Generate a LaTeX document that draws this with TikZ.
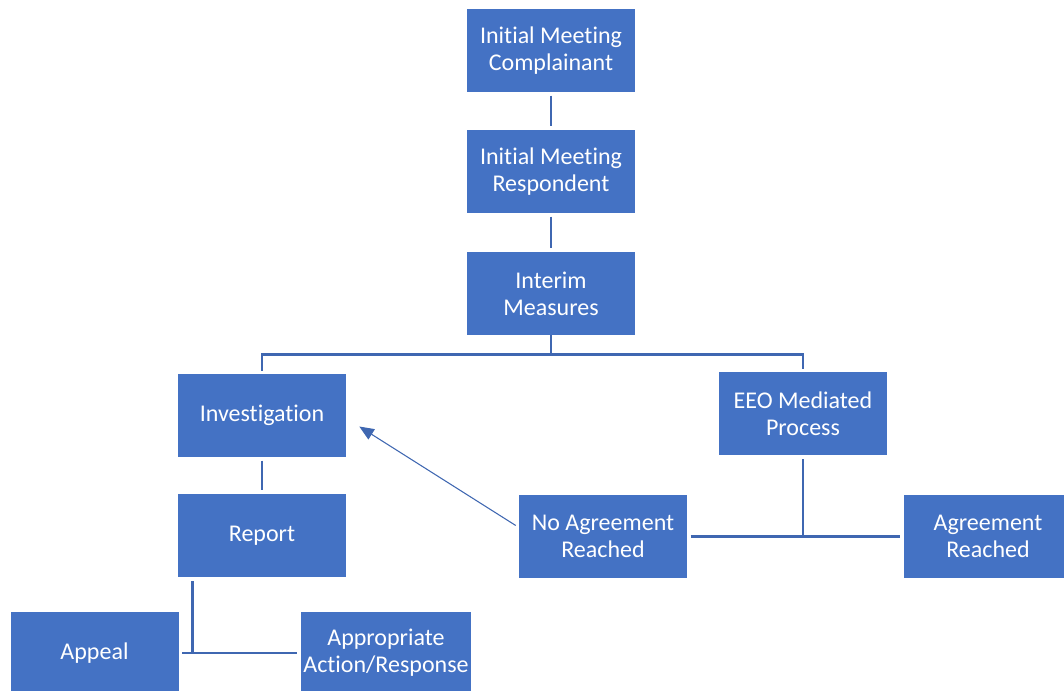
\documentclass[tikz,border=0pt]{standalone}
\usepackage{fontspec}
\setmainfont{Carlito}[Ligatures=NoCommon]
\usetikzlibrary{calc,arrows.meta}
\definecolor{boxblue}{RGB}{68,114,196}
\definecolor{lineblue}{RGB}{63,103,177}
\tikzset{
  stepbox/.style={rectangle, fill=boxblue, draw=none, text=white, align=center,
    minimum width=168*0.75pt, minimum height=83*0.75pt, inner sep=1pt,
    font=\fontsize{18}{20.3}\selectfont},
  conn/.style={draw=lineblue, line width=2.2pt},
  gap/.style={shorten <=2.5pt, shorten >=2.5pt},
  arrowline/.style={draw=lineblue, line width=0.8pt, -{Triangle[length=11pt,width=9pt]}}
}
\begin{document}
\begin{tikzpicture}[x=0.75pt,y=-0.75pt]
\useasboundingbox (0,0) rectangle (1064,691);
\begin{scope}
\clip (0,0) rectangle (1064,691);
\node[stepbox] (c1) at (551,50.5) {Initial Meeting\\Complainant};
\node[stepbox] (c2) at (551,171.5) {Initial Meeting\\Respondent};
\node[stepbox] (c3) at (551,293.5) {Interim\\Measures};
\node[stepbox] (inv) at (262,415.5) {Investigation};
\node[stepbox] (eeo) at (803,413.5) {EEO Mediated\\Process};
\node[stepbox] (report) at (262,535.5) {Report};
\node[stepbox] (noagr) at (603,536.5) {No Agreement\\Reached};
\node[stepbox] (agr) at (988,536.5) {Agreement\\Reached};
\node[stepbox] (appeal) at (94.5,653) {Appeal};
\node[stepbox, minimum width=170*0.75pt] (action) at (386,653) {Appropriate\\Action/Response};
\end{scope}

\draw[conn,gap] (c1.south) -- (c2.north);
\draw[conn,gap] (c2.south) -- (c3.north);
\coordinate (fork) at ($(c3.south)+(0,19)$);
\draw[conn] (c3.south) -- (fork);
\draw[conn,shorten >=2pt] (fork) -| (inv.north);
\draw[conn,shorten >=2pt] (fork) -| (eeo.north);
\draw[conn,gap] (inv.south) -- (report.north);
\coordinate (rb) at ($(report.south west)+(15,0)$);
\draw[conn,shorten <=3pt] (rb) -- (rb |- appeal.east);
\draw[conn,gap] (appeal.east) -- (action.west);
\draw[conn,shorten <=3pt] (eeo.south) -- (eeo.south |- noagr.east);
\draw[conn,gap] (noagr.east) -- (agr.west);
\draw[arrowline] ($(noagr.west)+(-3,-11)$) -- ($(inv.east)+(13,11)$);
\end{tikzpicture}
\end{document}
